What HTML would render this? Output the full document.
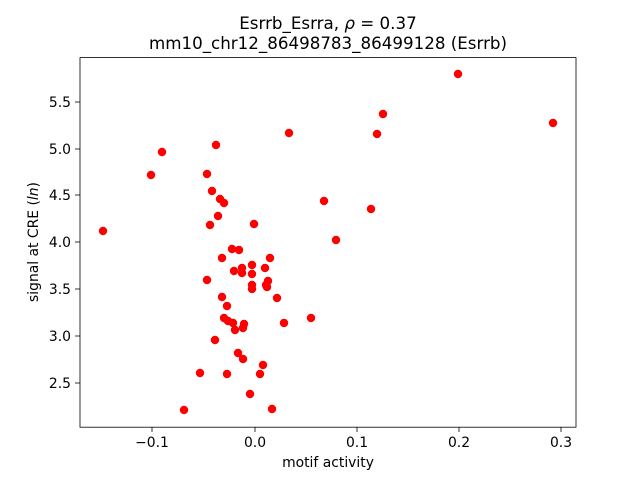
<!DOCTYPE html>
<html><head><meta charset="utf-8"><style>
body{margin:0;background:#fff}
svg text{font-family:"DejaVu Sans","Liberation Sans",sans-serif;fill:#000}
</style></head><body>
<svg width="640" height="480" xmlns="http://www.w3.org/2000/svg">
<rect width="640" height="480" fill="#fff"/>
<g fill="#ff0000">
<circle cx="458" cy="74" r="4.2"/><circle cx="383" cy="114" r="4.2"/><circle cx="553" cy="123" r="4.2"/><circle cx="377" cy="134" r="4.2"/><circle cx="289" cy="133" r="4.2"/><circle cx="162" cy="152" r="4.2"/><circle cx="216" cy="145" r="4.2"/><circle cx="151" cy="175" r="4.2"/><circle cx="207" cy="174" r="4.2"/><circle cx="212" cy="191" r="4.2"/><circle cx="220" cy="199" r="4.2"/><circle cx="224" cy="203" r="4.2"/><circle cx="103" cy="231" r="4.2"/><circle cx="218" cy="216" r="4.2"/><circle cx="210" cy="225" r="4.2"/><circle cx="254" cy="224" r="4.2"/><circle cx="324" cy="201" r="4.2"/><circle cx="371" cy="209" r="4.2"/><circle cx="232" cy="249" r="4.2"/><circle cx="239" cy="250" r="4.2"/><circle cx="336" cy="240" r="4.2"/><circle cx="222" cy="258" r="4.2"/><circle cx="270" cy="258" r="4.2"/><circle cx="252" cy="265" r="4.2"/><circle cx="265" cy="268" r="4.2"/><circle cx="242" cy="268" r="4.2"/><circle cx="242" cy="273" r="4.2"/><circle cx="234" cy="271" r="4.2"/><circle cx="252" cy="274" r="4.2"/><circle cx="268" cy="281" r="4.2"/><circle cx="267" cy="287" r="4.2"/><circle cx="207" cy="280" r="4.2"/><circle cx="252" cy="285" r="4.2"/><circle cx="266" cy="285" r="4.2"/><circle cx="252" cy="289" r="4.2"/><circle cx="277" cy="298" r="4.2"/><circle cx="222" cy="297" r="4.2"/><circle cx="227" cy="306" r="4.2"/><circle cx="224" cy="318" r="4.2"/><circle cx="228" cy="321" r="4.2"/><circle cx="233" cy="323" r="4.2"/><circle cx="244" cy="324" r="4.2"/><circle cx="311" cy="318" r="4.2"/><circle cx="284" cy="323" r="4.2"/><circle cx="243" cy="328" r="4.2"/><circle cx="235" cy="330" r="4.2"/><circle cx="215" cy="340" r="4.2"/><circle cx="238" cy="353" r="4.2"/><circle cx="243" cy="359" r="4.2"/><circle cx="263" cy="365" r="4.2"/><circle cx="200" cy="373" r="4.2"/><circle cx="227" cy="374" r="4.2"/><circle cx="260" cy="374" r="4.2"/><circle cx="250" cy="394" r="4.2"/><circle cx="184" cy="410" r="4.2"/><circle cx="272" cy="409" r="4.2"/>
</g>
<rect x="80" y="57.6" width="496" height="369.6" fill="none" stroke="#000" stroke-width="0.8"/>
<g stroke="#000" stroke-width="0.8">
<line x1="152" y1="427.2" x2="152" y2="432"/><line x1="255" y1="427.2" x2="255" y2="432"/><line x1="357" y1="427.2" x2="357" y2="432"/><line x1="459" y1="427.2" x2="459" y2="432"/><line x1="561" y1="427.2" x2="561" y2="432"/>
<line x1="75" y1="383" x2="80" y2="383"/><line x1="75" y1="336" x2="80" y2="336"/><line x1="75" y1="289" x2="80" y2="289"/><line x1="75" y1="242" x2="80" y2="242"/><line x1="75" y1="195" x2="80" y2="195"/><line x1="75" y1="149" x2="80" y2="149"/><line x1="75" y1="102" x2="80" y2="102"/>
</g>
<g font-size="13.9" text-anchor="middle">
<text x="152" y="447">−0.1</text><text x="255" y="447">0.0</text><text x="357" y="447">0.1</text><text x="459" y="447">0.2</text><text x="561" y="447">0.3</text>
</g>
<g font-size="13.9" text-anchor="end">
<text x="71" y="388">2.5</text><text x="71" y="341">3.0</text><text x="71" y="294">3.5</text><text x="71" y="247">4.0</text><text x="71" y="200">4.5</text><text x="71" y="154">5.0</text><text x="71" y="107">5.5</text>
</g>
<text x="328" y="467" font-size="13.9" text-anchor="middle">motif activity</text>
<text x="0" y="0" font-size="13.9" text-anchor="middle" transform="translate(38,242) rotate(-90)">signal at CRE (<tspan font-style="italic">ln</tspan>)</text>
<text x="328" y="29" font-size="16.7" text-anchor="middle">Esrrb_Esrra, <tspan font-style="italic">ρ</tspan> = 0.37</text>
<text x="328" y="49" font-size="16.7" text-anchor="middle">mm10_chr12_86498783_86499128 (Esrrb)</text>
</svg>
</body></html>
